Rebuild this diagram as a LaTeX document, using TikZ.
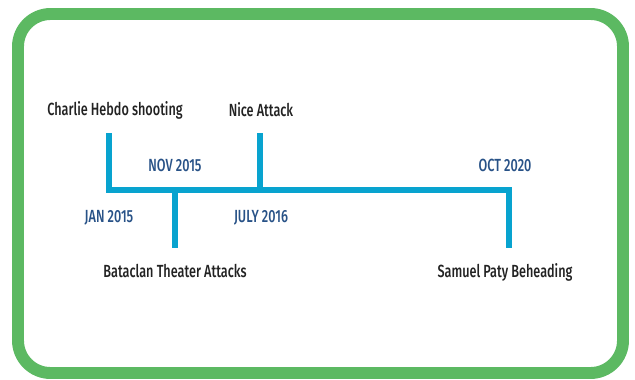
\documentclass[tikz,border=0pt]{standalone}
\usepackage{fontspec}
\setmainfont{Fira Sans}[FakeStretch=0.72, UprightFont=* Medium]
\usetikzlibrary{positioning}
\definecolor{framegreen}{RGB}{92,185,98}
\definecolor{lineblue}{RGB}{8,163,207}
\definecolor{dateblue}{RGB}{40,82,135}
\definecolor{labelgray}{RGB}{34,34,34}

\begin{document}
\begin{tikzpicture}[x=0.02cm, y=-0.02cm,
    frame/.style={draw=framegreen, line width=6.8pt, rounded corners=0.65cm},
    timeline/.style={draw=lineblue, line width=3.4pt, line join=miter},
    event/.style={inner sep=0pt, font=\fontsize{10}{12}\selectfont, text=labelgray},
    date/.style={inner sep=0pt, font=\fontsize{10}{12}\selectfont, text=dateblue}
]
    \useasboundingbox (0,0) rectangle (635,379);
    \draw[frame] (18,14) rectangle (623,373);

    % events above and below the line
    \node[event] (charlie) at (115,110) {Charlie Hebdo shooting};
    \node[event] (nice) at (261,110) {Nice Attack};
    \node[event] (bataclan) at (175,271) {Bataclan Theater Attacks};
    \node[event] (paty) at (505,272) {Samuel Paty Beheading};

    % dates
    \node[date] (nov) at (175,165) {NOV 2015};
    \node[date] (oct) at (505,165) {OCT 2020};
    \node[date] (jan) at (109,218) {JAN 2015};
    \node[date] (july) at (261,218) {JULY 2016};

    % ends of the ticks
    \coordinate (charlietop) at (109,133);
    \coordinate (start) at (109,190);
    \coordinate (nicetop) at (260,133);
    \coordinate (nicefoot) at (260,190);
    \coordinate (bataclanfoot) at (175,190);
    \coordinate (bataclanend) at (175,248);
    \coordinate (stop) at (509,190);
    \coordinate (patyend) at (509,248);

    \draw[timeline] (charlietop) -- (start) -- (stop) -- (patyend);
    \draw[timeline] (nicetop) -- (nicefoot);
    \draw[timeline] (bataclanfoot) -- (bataclanend);

\end{tikzpicture}
\end{document}
